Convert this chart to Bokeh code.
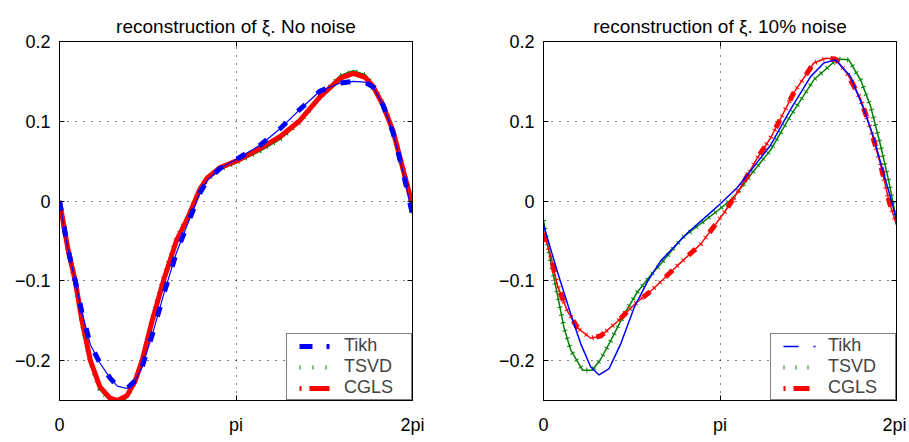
import math
from bokeh.plotting import figure
from bokeh.layouts import row
from bokeh.models import FixedTicker, LinearAxis, Range1d, Legend, LegendItem, ColumnDataSource
from bokeh.embed import file_html
from bokeh.resources import INLINE

PI = math.pi
FONT = "Liberation Sans"

# ---------------- data: left panel (no noise) ----------------
x_left = [0, 0.05, 0.15, 0.28, 0.40, 0.55, 0.72, 0.90, 1.03, 1.20, 1.35, 1.47, 1.65, 1.85,
          2.08, 2.29, 2.50, 2.63, 2.86, 3.14, 3.57, 3.93, 4.28, 4.64, 5.00, 5.23, 5.44, 5.58,
          5.76, 5.94, 6.12, 6.28]
tikh_left = [0, -0.02, -0.06, -0.10, -0.14, -0.18, -0.203, -0.222, -0.232, -0.235, -0.225,
             -0.208, -0.168, -0.118, -0.065, -0.027, 0.010, 0.026, 0.041, 0.052, 0.070, 0.091,
             0.115, 0.138, 0.148, 0.150, 0.149, 0.143, 0.120, 0.085, 0.035, -0.016]
tsvd_left = [0, -0.022, -0.062, -0.102, -0.152, -0.202, -0.236, -0.250, -0.253, -0.246, -0.226,
             -0.200, -0.148, -0.097, -0.047, -0.018, 0.014, 0.027, 0.040, 0.048, 0.063, 0.078,
             0.099, 0.131, 0.157, 0.163, 0.158, 0.146, 0.122, 0.088, 0.040, -0.006]
cgls_left = [0, -0.02, -0.06, -0.10, -0.15, -0.20, -0.233, -0.247, -0.250, -0.244, -0.225,
             -0.200, -0.150, -0.100, -0.050, -0.020, 0.015, 0.029, 0.042, 0.050, 0.066, 0.081,
             0.101, 0.131, 0.154, 0.160, 0.155, 0.144, 0.120, 0.087, 0.038, -0.004]

# ---------------- data: right panel (10% noise) ----------------
x_tikh_right = [0, 0.249, 0.486, 0.663, 0.841, 0.989, 1.167, 1.375, 1.611, 1.850, 2.086, 2.561,
                2.917, 3.154, 3.450, 3.687, 4.042, 4.398, 4.754, 4.990, 5.198, 5.465, 5.702,
                5.879, 6.057, 6.207, 6.283]
tikh_right = [-0.030, -0.089, -0.142, -0.179, -0.208, -0.218, -0.210, -0.179, -0.134, -0.101,
              -0.075, -0.040, -0.018, -0.003, 0.017, 0.038, 0.070, 0.115, 0.156, 0.173, 0.177,
              0.156, 0.115, 0.079, 0.034, -0.003, -0.024]
x_tsvd_right = [0, 0.130, 0.249, 0.366, 0.486, 0.694, 0.871, 1.019, 1.197, 1.433, 1.672, 1.908,
                2.086, 2.472, 2.917, 3.154, 3.390, 3.745, 4.042, 4.398, 4.812, 5.229, 5.435,
                5.643, 5.821, 5.999, 6.146, 6.283]
tsvd_right = [-0.024, -0.077, -0.118, -0.159, -0.187, -0.212, -0.212, -0.198, -0.175, -0.142,
              -0.114, -0.093, -0.079, -0.046, -0.022, -0.009, 0.005, 0.038, 0.064, 0.107, 0.152,
              0.178, 0.177, 0.152, 0.119, 0.070, 0.025, -0.024]
x_cgls_right = [0, 0.130, 0.249, 0.427, 0.605, 0.841, 1.019, 1.316, 1.672, 1.908, 2.383, 2.798,
                3.212, 3.509, 3.806, 4.042, 4.457, 4.812, 5.020, 5.198, 5.406, 5.643, 5.821,
                5.999, 6.146, 6.283]
cgls_right = [-0.040, -0.069, -0.106, -0.138, -0.159, -0.172, -0.169, -0.151, -0.126, -0.113,
              -0.081, -0.054, -0.015, 0.017, 0.054, 0.079, 0.136, 0.173, 0.179, 0.178, 0.160,
              0.128, 0.091, 0.046, 0.001, -0.030]

x_ticks = [0, PI, 2 * PI]
x_labels = ["0", "pi", "2pi"]
y_ticks = [-0.2, -0.1, 0, 0.1, 0.2]
y_labels = ["\u22120.2", "\u22120.1", "0", "0.1", "0.2"]
series_names = ["Tikh", "TSVD", "CGLS"]
titles = ["reconstruction of \u03be. No noise", "reconstruction of \u03be. 10% noise"]

BLUE, GREEN, RED = "#0000ff", "#008000", "#ff0000"


def make_fig(title, border_left, border_right):
    p = figure(width=border_left + 353 + border_right, height=437,
               x_range=Range1d(0, 2 * PI), y_range=Range1d(-0.25, 0.2),
               output_backend="svg", toolbar_location=None,
               min_border_left=border_left, min_border_right=border_right,
               min_border_top=41, min_border_bottom=29, title=title)
    p.title.text_font = FONT
    p.title.text_font_size = "19px"
    p.title.text_font_style = "normal"
    p.title.align = "center"
    p.title.text_color = "black"
    p.background_fill_color = "white"
    p.border_fill_color = "white"
    p.outline_line_color = "black"
    p.outline_line_width = 1
    p.xaxis.ticker = FixedTicker(ticks=x_ticks)
    p.xaxis.major_label_overrides = {t: s for t, s in zip(x_ticks, x_labels)}
    p.yaxis.ticker = FixedTicker(ticks=y_ticks)
    p.yaxis.major_label_overrides = {t: s for t, s in zip(y_ticks, y_labels)}
    for ax in (p.xaxis[0], p.yaxis[0]):
        ax.major_tick_in = 5
        ax.major_tick_out = 0
        ax.minor_tick_line_color = None
        ax.axis_line_color = "black"
        ax.major_label_text_font = FONT
        ax.major_label_text_font_size = "18px"
        ax.major_label_text_color = "black"
        ax.major_label_standoff = 9
    p.xaxis.major_label_standoff = 14
    ra = LinearAxis(ticker=FixedTicker(ticks=y_ticks), major_label_text_font_size="1px",
                    major_label_text_color=None,
                    major_tick_in=5, major_tick_out=0, minor_tick_line_color=None,
                    major_label_standoff=0)
    # top axis: inward ticks only; its standoff lifts the title above it
    ta = LinearAxis(ticker=FixedTicker(ticks=x_ticks), major_label_text_font_size="1px",
                    major_label_text_color=None,
                    major_tick_in=5, major_tick_out=0, minor_tick_line_color=None,
                    major_label_standoff=5)
    p.add_layout(ra, "right")
    p.add_layout(ta, "above")
    p.xgrid.ticker = FixedTicker(ticks=x_ticks)
    p.ygrid.ticker = FixedTicker(ticks=y_ticks)
    for g in (p.xgrid[0], p.ygrid[0]):
        g.grid_line_color = "black"
        g.grid_line_dash = "1 7"
        g.grid_line_width = 1
    return p


def add_legend(p, specs):
    items = []
    for name, color, width, dash in specs:
        # legend-only renderer, kept outside the visible ranges
        r = p.line(x=[-10, -9], y=[-10, -10], line_color=color, line_width=width,
                   line_dash=dash, line_cap="butt")
        items.append(LegendItem(label=name, renderers=[r]))
    leg = Legend(items=items, location="bottom_right", margin=0, padding=1,
                 spacing=0, glyph_width=44, glyph_height=20, label_standoff=12,
                 label_width=66, label_height=20,
                 label_text_font=FONT, label_text_font_size="18px",
                 border_line_color="black", border_line_width=1,
                 background_fill_alpha=1)
    p.add_layout(leg, "center")


# ---------- left ----------
p1 = make_fig(titles[0], 59, 40)
s = ColumnDataSource(dict(x=x_left, tikh=tikh_left, tsvd=tsvd_left, cgls=cgls_left))
p1.line("x", "tsvd", source=s, line_color=GREEN, line_width=2)
p1.line("x", "tsvd", source=s, line_color=GREEN, line_width=5, line_dash="1 7", line_cap="butt")
p1.line("x", "cgls", source=s, line_color=RED, line_width=5)
p1.line("x", "tikh", source=s, line_color=BLUE, line_width=1.2)
p1.line("x", "tikh", source=s, line_color=BLUE, line_width=5, line_dash="10 16", line_cap="butt")
add_legend(p1, [(series_names[0], BLUE, 5, "0 11 13 14 3 20"),
                (series_names[1], GREEN, 4, "0 11 1 12 1 12 1 12"),
                (series_names[2], RED, 5, "0 11 2 8 20 20")])

# ---------- right ----------
p2 = make_fig(titles[1], 91, 10)
p2.line(x_tsvd_right, tsvd_right, line_color=GREEN, line_width=1.5)
p2.line(x_tsvd_right, tsvd_right, line_color=GREEN, line_width=5, line_dash="1 7", line_cap="butt")
p2.line(x_cgls_right, cgls_right, line_color=RED, line_width=1.5)
p2.line(x_cgls_right, cgls_right, line_color=RED, line_width=5, line_dash="1 7", line_cap="butt")
p2.line(x_cgls_right, cgls_right, line_color=RED, line_width=5, line_dash="9 22", line_cap="butt")
p2.line(x_tikh_right, tikh_right, line_color=BLUE, line_width=1.5)
add_legend(p2, [(series_names[0], BLUE, 1.5, "0 11 15 15 2 20"),
                (series_names[1], GREEN, 4, "0 11 1 11 1 11 1 11"),
                (series_names[2], RED, 5, "0 11 2 8 16 20")])

layout = row(p1, p2)
open("out.html", "w").write(file_html(layout, INLINE))
